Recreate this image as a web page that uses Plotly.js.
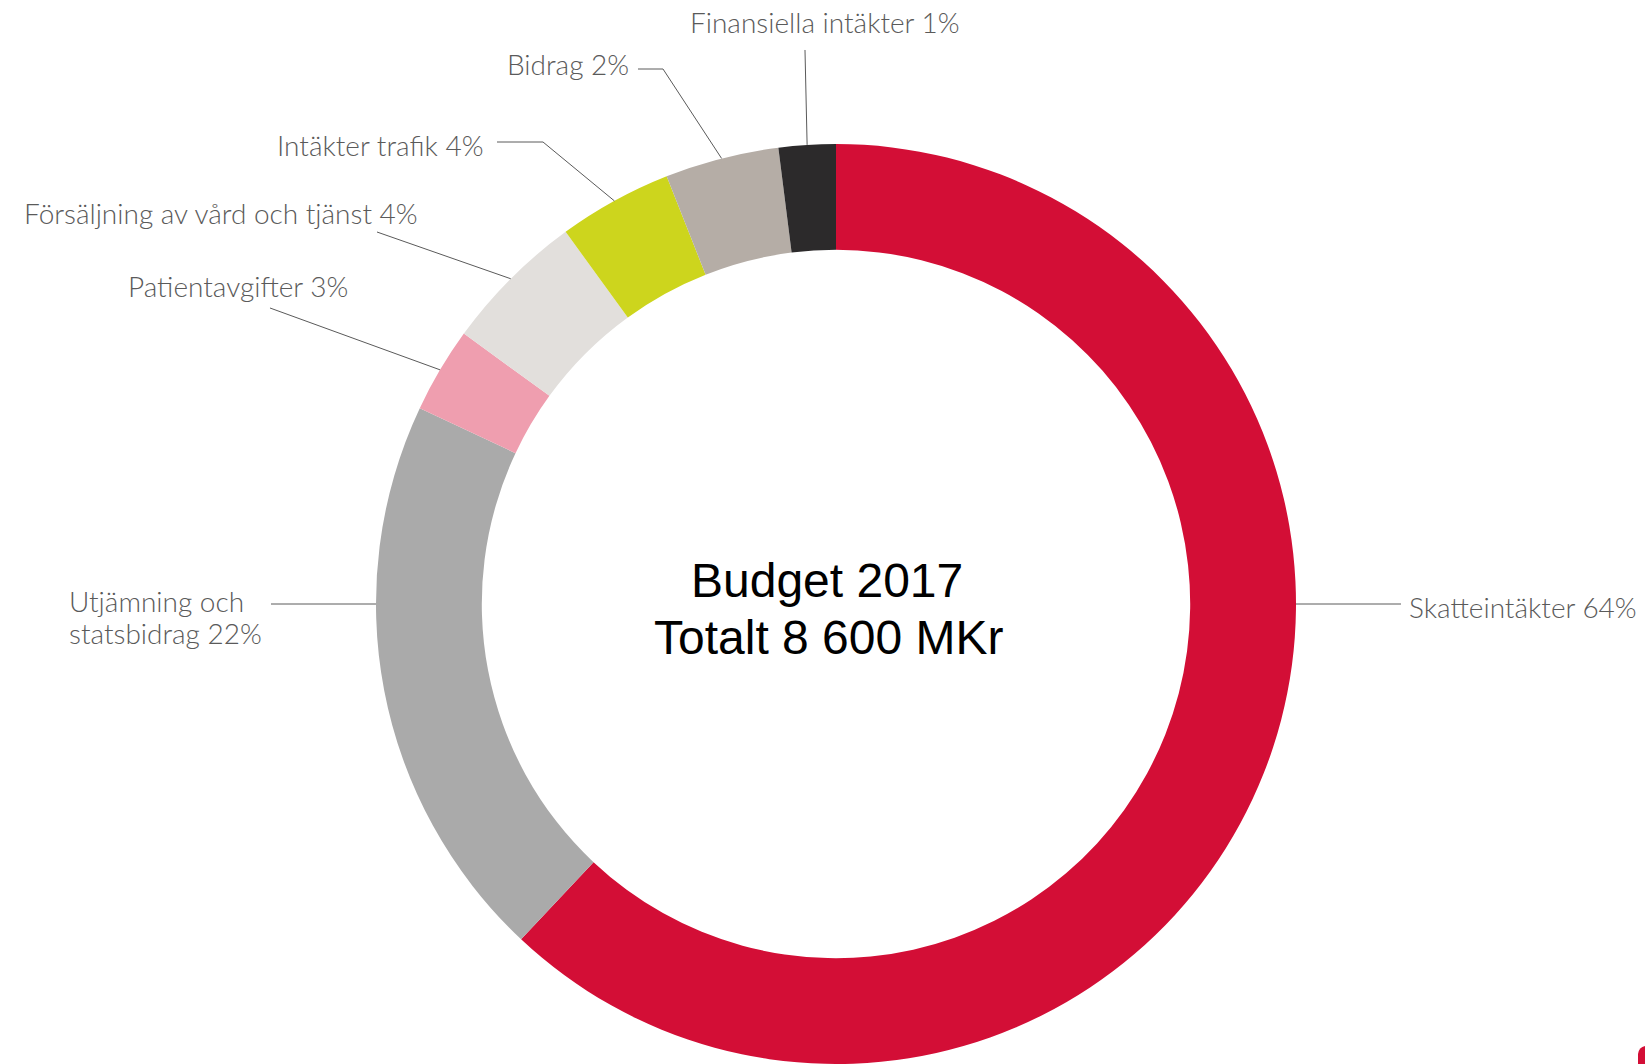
<!DOCTYPE html>
<html>
<head>
<meta charset="utf-8">
<script src="https://cdn.plot.ly/plotly-3.0.1.min.js"></script>
<style>
html,body{margin:0;padding:0;background:#ffffff;}
#chart{width:1645px;height:1064px;}
</style>
</head>
<body>
<div id="chart"></div>
<script>
// ---- data ----
const categories = ["Skatteintäkter", "Utjämning och statsbidrag", "Patientavgifter",
  "Försäljning av vård och tjänst", "Intäkter trafik", "Bidrag", "Finansiella intäkter"];
// slice sizes as drawn in the picture (share of total, %)
const values = [62, 20, 3, 5, 4, 4, 2];
// percentages printed on the labels
const labelPercents = [64, 22, 3, 4, 4, 2, 1];
// label text, split into printed lines
const labelLines = [["Skatteintäkter"], ["Utjämning och", "statsbidrag"], ["Patientavgifter"],
  ["Försäljning av vård och tjänst"], ["Intäkter trafik"], ["Bidrag"], ["Finansiella intäkter"]];
const centerLines = ["Budget 2017", "Totalt 8 600 MKr"];

// ---- styling ----
const colors = ["#D30E36", "#AAAAAA", "#EF9EAF", "#E2DFDC", "#CDD51D", "#B5ADA6", "#2C2A2B"];
const W = 1645, H = 1064;
const domX = [375.5 / W, 1296.5 / W];
const domY = [0, 920 / H];
const labelFont = {family: "Lato, 'Open Sans', sans-serif", size: 28, color: "#5A5A5A", weight: 300};
const lineGap = 32;

// label placement (pixels): text anchor and leader line points from label side
const labelLayout = [
  {x: 1407, y: 607, xa: "left",  pts: [[1401, null]], attach: "right"},
  {x: 67,   y: 601, xa: "left",  pts: [[271, null]],  attach: "left"},
  {x: 350,  y: 286, xa: "right", pts: [[270, 308]]},
  {x: 420,  y: 213, xa: "right", pts: [[377, 232]]},
  {x: 485,  y: 145, xa: "right", pts: [[497, 142], [543, 142]]},
  {x: 631,  y: 64,  xa: "right", pts: [[638, 69], [663, 69]]},
  {x: 825,  y: 22,  xa: "center", pts: [[805, 50]]}
];

// geometry of the pie as Plotly draws it
const cx = (domX[0] + domX[1]) / 2 * W;
const cy = H - (domY[0] + domY[1]) / 2 * H;
const R = Math.min((domX[1] - domX[0]) * W, (domY[1] - domY[0]) * H) / 2;

const total = values.reduce((a, b) => a + b, 0);
let cum = 0;
const midAngles = values.map(v => { const m = (cum + v / 2) / total * 360; cum += v; return m; });

const px = x => x / W;
const py = y => 1 - y / H;

const shapes = [];
const annotations = [];
labelLayout.forEach((L, i) => {
  let end;
  if (L.attach === "right") end = [cx + R, cy];
  else if (L.attach === "left") end = [cx - R, cy];
  else {
    const a = midAngles[i] * Math.PI / 180;
    end = [cx + R * Math.sin(a), cy - R * Math.cos(a)];
  }
  const pts = L.pts.map(p => [p[0], p[1] === null ? cy : p[1]]);
  pts.push(end);
  const path = pts.map((p, k) => (k === 0 ? "M " : "L ") + px(p[0]).toFixed(5) + " " + py(p[1]).toFixed(5)).join(" ");
  shapes.push({type: "path", xref: "paper", yref: "paper", path: path,
    line: {color: "#5A5A5A", width: 1}});
  const lines = labelLines[i];
  lines.forEach((t, k) => {
    const txt = k === lines.length - 1 ? t + " " + labelPercents[i] + "%" : t;
    annotations.push({
      xref: "paper", yref: "paper", x: px(L.x), y: py(L.y + k * lineGap),
      xanchor: L.xa, yanchor: "middle", align: "left", showarrow: false,
      text: txt, font: labelFont
    });
  });
});

// centre text
const centerY = [580, 637];
const centerX = [827, 829];
centerLines.forEach((t, k) => {
  annotations.push({xref: "paper", yref: "paper", x: px(centerX[k]), y: py(centerY[k]),
    xanchor: "center", yanchor: "middle", showarrow: false, text: t,
    font: {family: "'Liberation Sans', Arial, sans-serif", size: 48, color: "#000000"}});
});

// small logo fragment in the corner
shapes.push({type: "path", xref: "paper", yref: "paper",
  path: "M " + px(1638) + " " + py(1064) + " L " + px(1638) + " " + py(1054) +
        " Q " + px(1639) + " " + py(1047) + " " + px(1645) + " " + py(1046) +
        " L " + px(1645) + " " + py(1064) + " Z",
  fillcolor: "#D30E36", line: {width: 0}});

const trace = {
  type: "pie",
  labels: categories,
  values: values,
  marker: {colors: colors, line: {width: 0}},
  hole: 0.77,
  sort: false,
  direction: "clockwise",
  rotation: 0,
  textinfo: "none",
  hoverinfo: "label+percent",
  domain: {x: domX, y: domY},
  showlegend: false
};

const layout = {
  width: W, height: H,
  margin: {l: 0, r: 0, t: 0, b: 0},
  paper_bgcolor: "#ffffff",
  showlegend: false,
  shapes: shapes,
  annotations: annotations
};

Plotly.newPlot("chart", [trace], layout, {displayModeBar: false, staticPlot: true});
</script>
</body>
</html>
